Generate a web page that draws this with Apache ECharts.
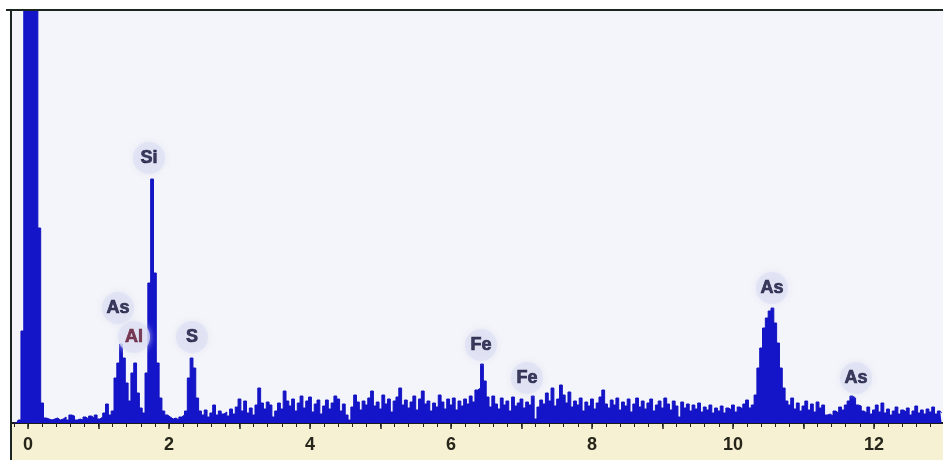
<!DOCTYPE html>
<html>
<head>
<meta charset="utf-8">
<title>EDS spectrum</title>
<script src="https://cdn.jsdelivr.net/npm/echarts@6/dist/echarts.min.js"></script>
<style>
	html, body { margin: 0; padding: 0; background: #ffffff; }
	#spectrum { width: 943px; height: 460px; }
</style>
</head>
<body>
<div id="spectrum"></div>
<script>
/* channel layout (keV) */
var START_KEV = -0.2;
var STEP_KEV = 0.04;

/* counts per channel, one row per keV, starting at -0.20 keV */
var counts00 = [0, 0, 3, 92, 420, 420, 420, 420, 420, 195, 20, 5, 4, 3, 4, 5, 3, 4, 6, 3, 8, 7, 3, 4, 3];
var counts01 = [6, 4, 7, 5, 8, 4, 6, 10, 19, 8, 12, 45, 60, 79, 65, 40, 22, 50, 60, 30, 15, 10, 50, 140, 244];
var counts02 = [150, 60, 25, 12, 8, 6, 4, 5, 3, 6, 8, 12, 45, 65, 55, 25, 12, 8, 13, 6, 10, 18, 8, 12, 9];
var counts03 = [11, 7, 14, 9, 16, 24, 12, 22, 10, 15, 8, 18, 35, 20, 14, 21, 18, 6, 12, 20, 14, 32, 22, 17, 24];
var counts04 = [12, 20, 27, 15, 22, 26, 11, 19, 23, 9, 17, 23, 14, 20, 27, 24, 12, 19, 8, 3, 16, 28, 21, 13, 22];
var counts05 = [18, 25, 32, 17, 21, 14, 28, 19, 24, 11, 22, 26, 35, 18, 23, 15, 21, 27, 13, 24, 32, 19, 22, 12, 20];
var counts06 = [16, 28, 21, 14, 24, 18, 25, 13, 22, 17, 24, 19, 27, 21, 33, 35, 59, 42, 26, 16, 27, 19, 14, 25, 18];
var counts07 = [22, 12, 26, 17, 20, 24, 15, 21, 18, 27, 4, 16, 23, 19, 30, 22, 35, 17, 24, 38, 28, 20, 31, 16, 22];
var counts08 = [18, 25, 12, 21, 17, 24, 14, 20, 26, 33, 19, 15, 23, 18, 25, 13, 21, 17, 24, 11, 19, 25, 16, 22, 14];
var counts09 = [20, 24, 12, 18, 22, 15, 25, 19, 13, 22, 17, 6, 21, 15, 19, 12, 18, 14, 20, 11, 16, 13, 18, 10, 15];
var counts10 = [12, 17, 10, 15, 13, 18, 11, 16, 14, 19, 23, 15, 18, 28, 55, 75, 95, 105, 112, 115, 100, 80, 55, 35, 22];
var counts11 = [18, 25, 14, 20, 12, 17, 22, 13, 19, 11, 21, 15, 18, 8, 9, 7, 12, 10, 16, 13, 18, 22, 27, 25, 18];
var counts12 = [17, 12, 10, 16, 9, 13, 18, 11, 20, 10, 14, 8, 12, 16, 9, 13, 11, 15, 8, 12, 17, 10, 13, 9, 14];
var counts13 = [11, 16, 9, 12, 10];

/* element labels: name, energy (keV), label height (counts) */
var peakNames  = ['Si', 'As', 'Al', 'S', 'Fe', 'Fe', 'As', 'As'];
var peakEnergy = [1.716, 1.277, 1.504, 2.326, 6.426, 7.078, 10.553, 11.745];
var peakLabelY = [265, 115, 86, 86, 78, 45, 135, 45];

/* x axis labels */
var tickLabels = [0, 2, 4, 6, 8, 10, 12];

var XMIN = -0.227;
var XMAX = 12.98;

(function() {

	var counts = [].concat(counts00, counts01, counts02, counts03, counts04, counts05, counts06,
		counts07, counts08, counts09, counts10, counts11, counts12, counts13);

	var spectrum = [];
	for (var i = 0; i < counts.length; i++) {
		spectrum.push([+(START_KEV + STEP_KEV * i).toFixed(2), counts[i]]);
	}

	var halos = [];
	var labels = [];
	for (var j = 0; j < peakNames.length; j++) {
		var c = peakNames[j] === 'Al' ? '#5e1230' : '#121238';
		halos.push([peakEnergy[j], peakLabelY[j]]);
		labels.push({
			name: peakNames[j],
			value: [peakEnergy[j], peakLabelY[j]],
			label: { color: c, textBorderColor: c, textBorderWidth: 0.7 }
		});
	}

	// tick marks every 0.2 keV, longer ones on whole keV
	var minorTicks = [];
	var majorTicks = [];
	for (var k = -1; k <= 64; k++) {
		minorTicks.push(+(k * 0.2).toFixed(1));
	}
	for (var m = 0; m <= 12; m++) {
		majorTicks.push(m);
	}

	var myChart = echarts.init(document.getElementById('spectrum'), null, { renderer: 'canvas' });
	var option = {
		animation: false,
		backgroundColor: '#ffffff',
		grid: {
			left: 12,
			right: 0,
			top: 10,
			bottom: 37,
			show: true,
			backgroundColor: '#f4f5fa',
			borderWidth: 0
		},
		graphic: [{
			type: 'rect',
			z: -5,
			shape: { x: 12, y: 424, width: 931, height: 36 },
			style: { fill: '#f7f1d3' }
		}, {
			type: 'line',
			z: 50,
			shape: { x1: 6, y1: 10, x2: 943, y2: 10 },
			style: { stroke: '#1c2620', lineWidth: 2 }
		}, {
			type: 'line',
			z: 50,
			shape: { x1: 11, y1: 10, x2: 11, y2: 460 },
			style: { stroke: '#1c2620', lineWidth: 2 }
		}],
		xAxis: [{
			type: 'value',
			min: XMIN,
			max: XMAX,
			position: 'bottom',
			axisLine: {
				show: true,
				onZero: false,
				lineStyle: { color: '#1a1a1a', width: 2 }
			},
			axisTick: {
				show: true,
				customValues: minorTicks,
				length: 4,
				lineStyle: { color: '#222222', width: 1 }
			},
			axisLabel: {
				customValues: tickLabels,
				margin: 13,
				fontFamily: 'Liberation Sans',
				fontWeight: 'bold',
				fontSize: 18,
				color: '#26251a'
			},
			splitLine: { show: false }
		}, {
			type: 'value',
			min: XMIN,
			max: XMAX,
			position: 'bottom',
			axisLine: { show: false, onZero: false },
			axisTick: {
				show: true,
				customValues: majorTicks,
				length: 6,
				lineStyle: { color: '#222222', width: 1.5 }
			},
			axisLabel: { show: false },
			splitLine: { show: false }
		}],
		yAxis: {
			type: 'value',
			min: 0,
			max: 413,
			show: false,
			splitLine: { show: false }
		},
		series: [{
			name: 'Counts',
			type: 'line',
			step: 'middle',
			showSymbol: false,
			symbol: 'none',
			clip: true,
			data: spectrum,
			lineStyle: { color: '#1414c2', width: 1 },
			areaStyle: { color: '#1414c8', opacity: 1 },
			z: 3
		}, {
			name: 'Halo',
			type: 'scatter',
			symbol: 'circle',
			symbolSize: 32,
			data: halos,
			itemStyle: {
				color: 'rgba(222, 225, 242, 0.9)',
				shadowBlur: 6,
				shadowColor: 'rgba(222, 225, 242, 1)'
			},
			z: 5
		}, {
			name: 'Elements',
			type: 'scatter',
			symbol: 'circle',
			symbolSize: 1,
			data: labels,
			itemStyle: { color: 'rgba(0,0,0,0)' },
			label: {
				show: true,
				position: 'inside',
				formatter: '{b}',
				fontFamily: 'Liberation Sans',
				fontWeight: 'bold',
				fontSize: 18,
				color: '#121238'
			},
			z: 6
		}]
	};
	myChart.setOption(option);
})();
</script>
</body>
</html>
